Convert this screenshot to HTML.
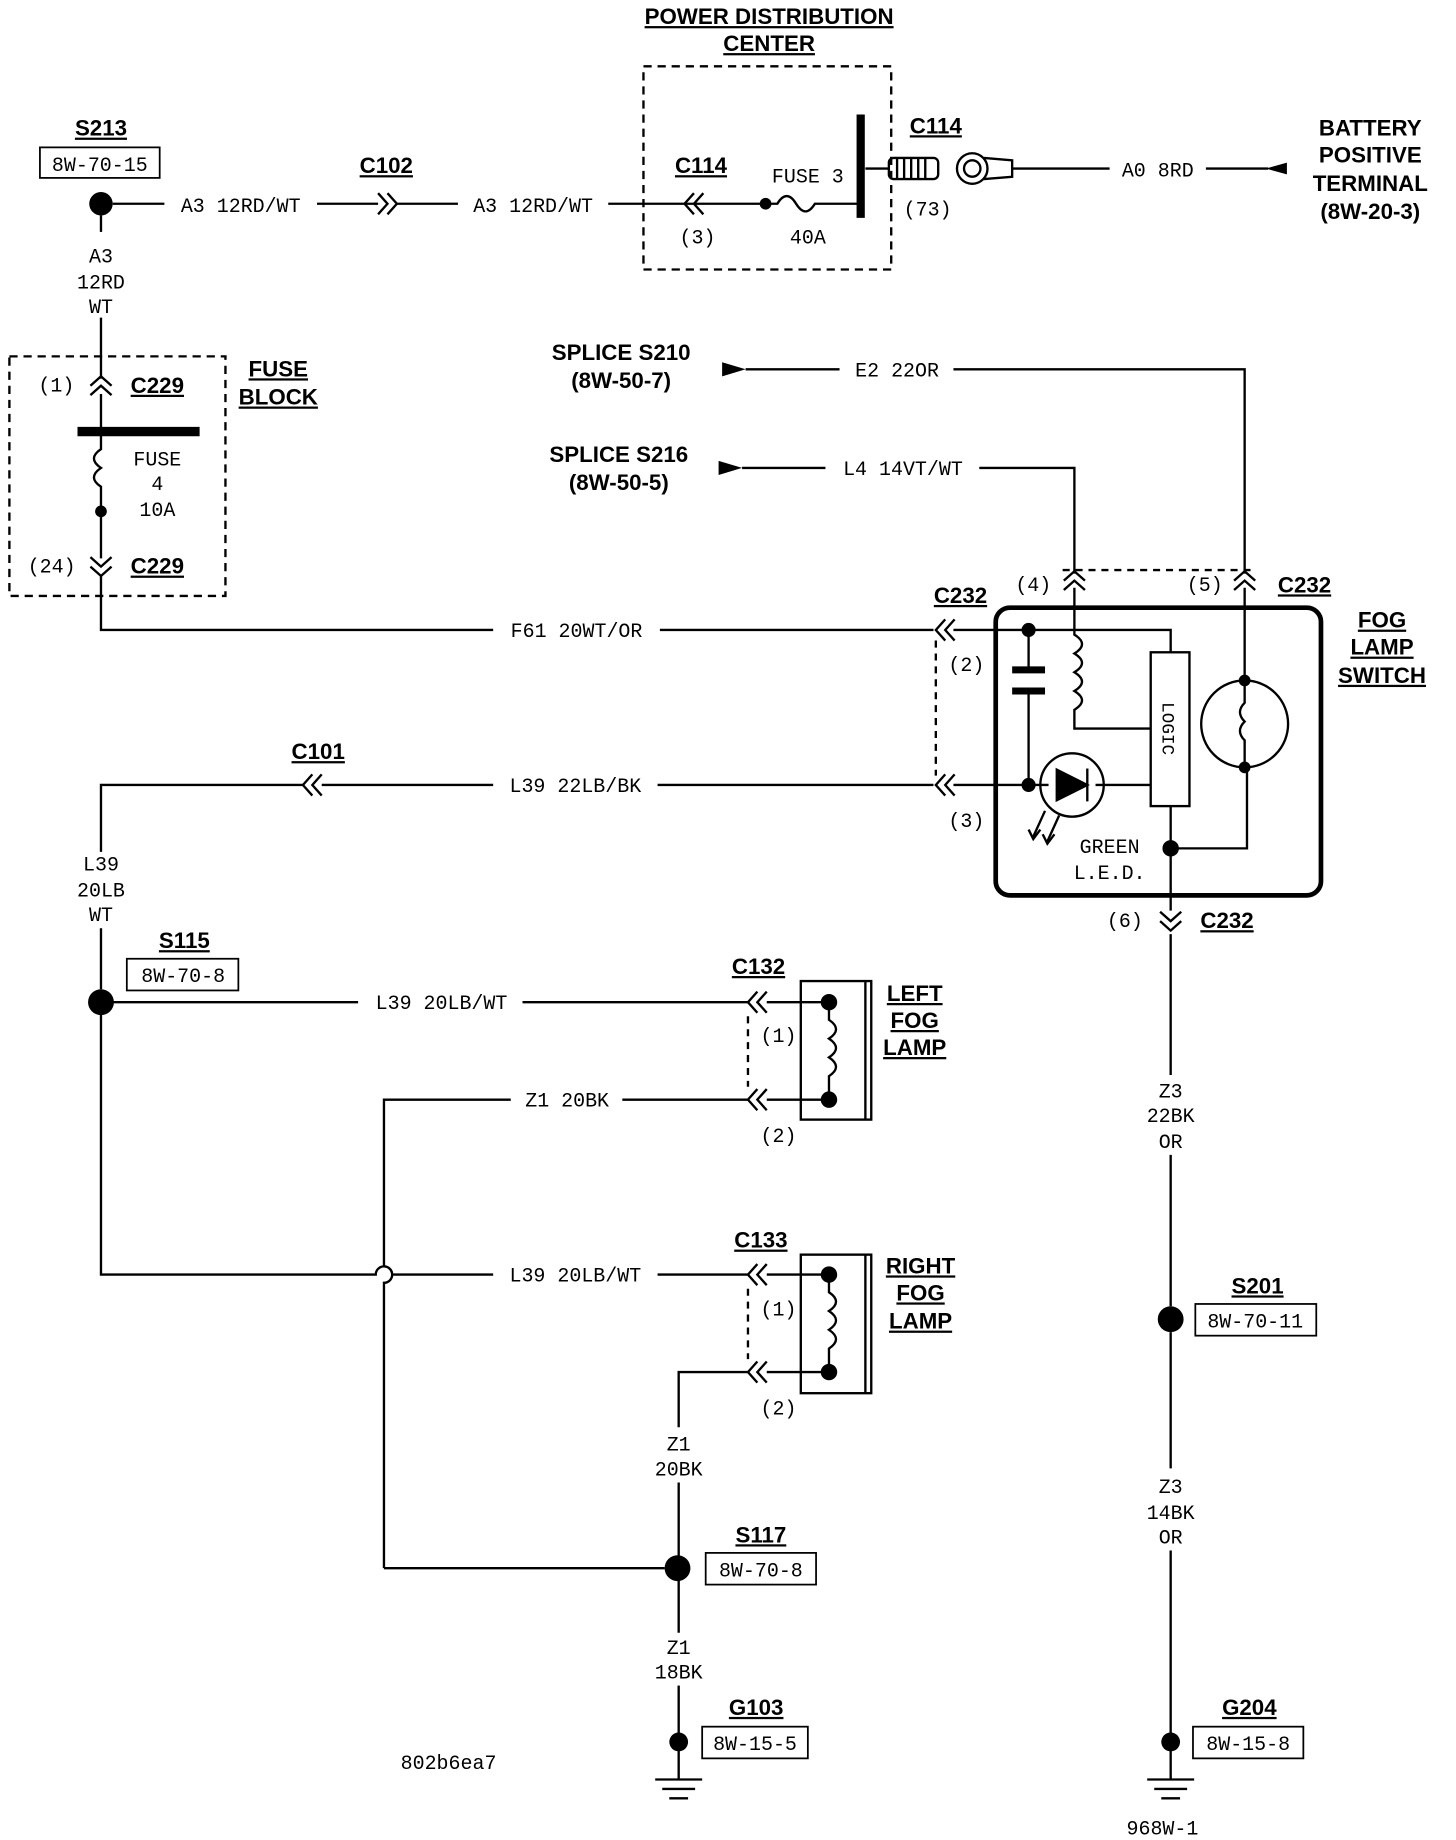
<!DOCTYPE html>
<html><head><meta charset="utf-8"><style>
html,body{margin:0;padding:0;background:#fff;}
svg{display:block}
text{font-family:"Liberation Mono",monospace;font-size:17px;fill:#000}
.b{font-family:"Liberation Sans",sans-serif;font-weight:bold;font-size:19px;text-decoration:underline}
.bn{font-family:"Liberation Sans",sans-serif;font-weight:bold;font-size:19px}
</style></head><body>
<svg width="1456" height="1840" viewBox="0 0 1240 1566" xmlns="http://www.w3.org/2000/svg">
<defs>
<g id="chL" fill="none" stroke="#000" stroke-width="2"><path d="M8,-9 L0,0 L8,9 M16,-9 L8,0 L16,9"/></g>
<g id="chR" fill="none" stroke="#000" stroke-width="2"><path d="M0,-9 L8,0 L0,9 M8,-9 L16,0 L8,9"/></g>
<g id="chU" fill="none" stroke="#000" stroke-width="2"><path d="M-9,8 L0,0 L9,8 M-9,16 L0,8 L9,16"/></g>
<g id="chD" fill="none" stroke="#000" stroke-width="2"><path d="M-9,0 L0,8 L9,0 M-9,8 L0,16 L9,8"/></g>
<g id="gnd" stroke="#000" stroke-width="2"><line x1="0" y1="0" x2="0" y2="32"/><line x1="-20" y1="32" x2="20" y2="32"/><line x1="-14" y1="40" x2="14" y2="40"/><line x1="-8" y1="48" x2="8" y2="48"/></g>
</defs>
<g stroke="#000" stroke-width="2" fill="none">
<rect x="548" y="56" width="211" height="173" stroke-dasharray="7,5"/>
<line x1="96" y1="173" x2="140" y2="173"/>
<line x1="270" y1="173" x2="322" y2="173"/>
<line x1="338" y1="173" x2="390" y2="173"/>
<line x1="518" y1="173" x2="652" y2="173"/>
<path d="M652,173 L662,173 Q670,160 678,173 Q686,186 694,173 L733,173"/>
<line x1="733" y1="97" x2="733" y2="185" stroke-width="7"/>
<line x1="737" y1="143" x2="757" y2="143"/>
<rect x="757" y="134" width="42" height="18" rx="4"/>
<path d="M764,134v18M770,134v18M776,134v18M782,134v18M788,134v18"/>
<circle cx="828" cy="143" r="13"/><circle cx="828" cy="143" r="7"/>
<path d="M838,134 L862,136 L862,150 L838,152"/>
<line x1="862" y1="143" x2="945" y2="143"/>
<line x1="1027" y1="143" x2="1080" y2="143"/>
<line x1="86" y1="183" x2="86" y2="197"/>
<line x1="86" y1="270" x2="86" y2="322"/>
<rect x="8" y="303" width="184" height="204" stroke-dasharray="7,5"/>
<line x1="86" y1="335" x2="86" y2="367"/>
<line x1="66" y1="367" x2="170" y2="367" stroke-width="8"/>
<path d="M86,367 L86,382 Q74,390 86,398 Q74,406 86,414 L86,435 L86,475"/>
<path d="M86,490 L86,536 L420,536"/>
<line x1="562" y1="536" x2="795" y2="536"/>
<line x1="635" y1="314" x2="715" y2="314"/>
<path d="M812,314 L1060,314 L1060,488"/>
<line x1="632" y1="398" x2="703" y2="398"/>
<path d="M834,398 L915,398 L915,488"/>
<line x1="905" y1="485" x2="1065" y2="485" stroke-dasharray="6,5"/>
<rect x="848" y="517" width="277" height="245" rx="12" stroke-width="4"/>
<line x1="797" y1="545" x2="797" y2="660" stroke-dasharray="6,5"/>
<line x1="812" y1="536" x2="876" y2="536"/>
<path d="M876,536 L997,536 L997,555"/>
<line x1="876" y1="536" x2="876" y2="570"/>
<line x1="862" y1="570" x2="890" y2="570" stroke-width="6"/>
<line x1="862" y1="588" x2="890" y2="588" stroke-width="6"/>
<line x1="876" y1="588" x2="876" y2="668"/>
<line x1="812" y1="668" x2="893" y2="668"/>
<circle cx="913" cy="668" r="27"/>
<path d="M900,655 L900,681 L926,668 Z" fill="#000"/>
<line x1="926" y1="654" x2="926" y2="682"/>
<line x1="933" y1="668" x2="980" y2="668"/>
<path d="M890,690 L880,712 M902,694 L892,716" />
<path d="M876,706 L880,714 L886,706 M888,710 L892,718 L898,710" fill="none"/>
<path d="M915,500 L915,540 Q928,548 915,556 Q928,564 915,572 Q928,580 915,588 Q928,596 915,604 L915,620 L980,620"/>
<rect x="980" y="555" width="33" height="131"/>
<line x1="997" y1="686" x2="997" y2="722"/>
<path d="M997,722 L1062,722 L1062,653"/>
<line x1="1060" y1="500" x2="1060" y2="579"/>
<circle cx="1060" cy="616" r="37"/>
<path d="M1060,579 L1060,598 Q1052,606 1060,614 Q1052,622 1060,630 L1060,653"/>
<line x1="997" y1="722" x2="997" y2="775"/>
<line x1="997" y1="795" x2="997" y2="915"/>
<line x1="997" y1="983" x2="997" y2="1112"/>
<line x1="997" y1="1134" x2="997" y2="1250"/>
<line x1="997" y1="1320" x2="997" y2="1478"/>
<path d="M86,725 L86,668 L258,668"/>
<line x1="274" y1="668" x2="420" y2="668"/>
<line x1="560" y1="668" x2="795" y2="668"/>
<line x1="86" y1="790" x2="86" y2="842"/>
<line x1="96" y1="853" x2="305" y2="853"/>
<line x1="445" y1="853" x2="637" y2="853"/>
<line x1="637" y1="865" x2="637" y2="925" stroke-dasharray="6,5"/>
<rect x="682" y="835" width="60" height="118"/><line x1="737" y1="835" x2="737" y2="953"/>
<path d="M653,853 L706,853 L706,868 Q718,876 706,884 Q718,892 706,900 Q718,908 706,916 L706,936 L653,936"/>
<path d="M327,1335 L327,1092 A7,7 0 0 0 327,1078 L327,936 L435,936"/>
<line x1="530" y1="936" x2="637" y2="936"/>
<path d="M86,863 L86,1085 L320,1085 A7,7 0 0 1 334,1085 L420,1085"/>
<line x1="560" y1="1085" x2="637" y2="1085"/>
<line x1="637" y1="1097" x2="637" y2="1157" stroke-dasharray="6,5"/>
<rect x="682" y="1068" width="60" height="118"/><line x1="737" y1="1068" x2="737" y2="1186"/>
<path d="M653,1085 L706,1085 L706,1100 Q718,1108 706,1116 Q718,1124 706,1132 Q718,1140 706,1148 L706,1168 L653,1168"/>
<path d="M637,1168 L578,1168 L578,1215"/>
<line x1="578" y1="1262" x2="578" y2="1325"/>
<line x1="327" y1="1335" x2="566" y2="1335"/>
<line x1="578" y1="1345" x2="578" y2="1390"/>
<line x1="578" y1="1435" x2="578" y2="1478"/>
<rect x="34" y="125" width="102" height="26" stroke-width="1.5"/>
<rect x="108" y="816" width="95" height="27" stroke-width="1.5"/>
<rect x="1018" y="1110" width="103" height="27" stroke-width="1.5"/>
<rect x="601" y="1322" width="94" height="27" stroke-width="1.5"/>
<rect x="598" y="1470" width="90" height="27" stroke-width="1.5"/>
<rect x="1016" y="1470" width="94" height="27" stroke-width="1.5"/>
</g>
<g fill="#000">
<circle cx="86" cy="173" r="10"/><circle cx="652" cy="173" r="5"/><circle cx="86" cy="435" r="5"/>
<circle cx="876" cy="536" r="6"/><circle cx="876" cy="668" r="6"/><circle cx="997" cy="722" r="7"/>
<circle cx="1060" cy="579" r="5"/><circle cx="1060" cy="653" r="5"/>
<circle cx="86" cy="853" r="11"/><circle cx="997" cy="1123" r="11"/><circle cx="577" cy="1335" r="11"/>
<circle cx="578" cy="1483" r="8"/><circle cx="997" cy="1483" r="8"/>
<circle cx="706" cy="853" r="7"/><circle cx="706" cy="936" r="7"/><circle cx="706" cy="1085" r="7"/><circle cx="706" cy="1168" r="7"/>
<path d="M1078,143 L1096,138 L1096,148 Z"/>
<path d="M615,308 L635,314 L615,320 Z"/>
<path d="M612,392 L632,398 L612,404 Z"/>
</g>
<use href="#chR" x="322" y="173"/>
<use href="#chL" x="583" y="173"/>
<use href="#chU" x="86" y="320"/>
<use href="#chD" x="86" y="474"/>
<use href="#chL" x="797" y="536"/>
<use href="#chL" x="797" y="668"/>
<use href="#chU" x="915" y="486"/>
<use href="#chU" x="1060" y="486"/>
<use href="#chD" x="997" y="776"/>
<use href="#chL" x="258" y="668"/>
<use href="#chL" x="637" y="853"/>
<use href="#chL" x="637" y="936"/>
<use href="#chL" x="637" y="1085"/>
<use href="#chL" x="637" y="1168"/>
<use href="#gnd" x="578" y="1483"/>
<use href="#gnd" x="997" y="1483"/>
<text x="655" y="20" class="b" text-anchor="middle">POWER DISTRIBUTION</text>
<text x="655" y="43" class="b" text-anchor="middle">CENTER</text>
<text x="86" y="115" class="b" text-anchor="middle">S213</text>
<text x="85" y="145" text-anchor="middle">8W-70-15</text>
<text x="205" y="180" text-anchor="middle">A3 12RD/WT</text>
<text x="329" y="147" class="b" text-anchor="middle">C102</text>
<text x="454" y="180" text-anchor="middle">A3 12RD/WT</text>
<text x="597" y="147" class="b" text-anchor="middle">C114</text>
<text x="688" y="155" text-anchor="middle">FUSE 3</text>
<text x="594" y="207" text-anchor="middle">(3)</text>
<text x="688" y="207" text-anchor="middle">40A</text>
<text x="797" y="113" class="b" text-anchor="middle">C114</text>
<text x="790" y="183" text-anchor="middle">(73)</text>
<text x="986" y="150" text-anchor="middle">A0 8RD</text>
<text x="1167" y="115" class="bn" text-anchor="middle">BATTERY</text>
<text x="1167" y="138" class="bn" text-anchor="middle">POSITIVE</text>
<text x="1167" y="162" class="bn" text-anchor="middle">TERMINAL</text>
<text x="1167" y="186" class="bn" text-anchor="middle">(8W-20-3)</text>
<text x="86" y="223" text-anchor="middle">A3</text>
<text x="86" y="245" text-anchor="middle">12RD</text>
<text x="86" y="266" text-anchor="middle">WT</text>
<text x="48" y="333" text-anchor="middle">(1)</text>
<text x="134" y="334" class="b" text-anchor="middle">C229</text>
<text x="237" y="320" class="b" text-anchor="middle">FUSE</text>
<text x="237" y="344" class="b" text-anchor="middle">BLOCK</text>
<text x="134" y="396" text-anchor="middle">FUSE</text>
<text x="134" y="417" text-anchor="middle">4</text>
<text x="134" y="439" text-anchor="middle">10A</text>
<text x="44" y="487" text-anchor="middle">(24)</text>
<text x="134" y="488" class="b" text-anchor="middle">C229</text>
<text x="529" y="306" class="bn" text-anchor="middle">SPLICE S210</text>
<text x="529" y="330" class="bn" text-anchor="middle">(8W-50-7)</text>
<text x="764" y="320" text-anchor="middle">E2 22OR</text>
<text x="527" y="393" class="bn" text-anchor="middle">SPLICE S216</text>
<text x="527" y="417" class="bn" text-anchor="middle">(8W-50-5)</text>
<text x="769" y="404" text-anchor="middle">L4 14VT/WT</text>
<text x="880" y="503" text-anchor="middle">(4)</text>
<text x="1026" y="503" text-anchor="middle">(5)</text>
<text x="1111" y="504" class="b" text-anchor="middle">C232</text>
<text x="818" y="513" class="b" text-anchor="middle">C232</text>
<text x="1177" y="534" class="b" text-anchor="middle">FOG</text>
<text x="1177" y="557" class="b" text-anchor="middle">LAMP</text>
<text x="1177" y="581" class="b" text-anchor="middle">SWITCH</text>
<text x="491" y="542" text-anchor="middle">F61 20WT/OR</text>
<text x="823" y="571" text-anchor="middle">(2)</text>
<text x="823" y="704" text-anchor="middle">(3)</text>
<text transform="translate(990,620) rotate(90)" text-anchor="middle" style="font-size:15px">LOGIC</text>
<text x="945" y="726" text-anchor="middle">GREEN</text>
<text x="945" y="748" text-anchor="middle">L.E.D.</text>
<text x="958" y="789" text-anchor="middle">(6)</text>
<text x="1045" y="790" class="b" text-anchor="middle">C232</text>
<text x="271" y="646" class="b" text-anchor="middle">C101</text>
<text x="490" y="674" text-anchor="middle">L39 22LB/BK</text>
<text x="86" y="741" text-anchor="middle">L39</text>
<text x="86" y="763" text-anchor="middle">20LB</text>
<text x="86" y="784" text-anchor="middle">WT</text>
<text x="157" y="807" class="b" text-anchor="middle">S115</text>
<text x="156" y="836" text-anchor="middle">8W-70-8</text>
<text x="376" y="859" text-anchor="middle">L39 20LB/WT</text>
<text x="646" y="829" class="b" text-anchor="middle">C132</text>
<text x="663" y="887" text-anchor="middle">(1)</text>
<text x="663" y="972" text-anchor="middle">(2)</text>
<text x="779" y="852" class="b" text-anchor="middle">LEFT</text>
<text x="779" y="875" class="b" text-anchor="middle">FOG</text>
<text x="779" y="898" class="b" text-anchor="middle">LAMP</text>
<text x="483" y="942" text-anchor="middle">Z1 20BK</text>
<text x="490" y="1091" text-anchor="middle">L39 20LB/WT</text>
<text x="648" y="1062" class="b" text-anchor="middle">C133</text>
<text x="663" y="1120" text-anchor="middle">(1)</text>
<text x="663" y="1204" text-anchor="middle">(2)</text>
<text x="784" y="1084" class="b" text-anchor="middle">RIGHT</text>
<text x="784" y="1107" class="b" text-anchor="middle">FOG</text>
<text x="784" y="1131" class="b" text-anchor="middle">LAMP</text>
<text x="578" y="1235" text-anchor="middle">Z1</text>
<text x="578" y="1256" text-anchor="middle">20BK</text>
<text x="648" y="1313" class="b" text-anchor="middle">S117</text>
<text x="648" y="1342" text-anchor="middle">8W-70-8</text>
<text x="578" y="1408" text-anchor="middle">Z1</text>
<text x="578" y="1429" text-anchor="middle">18BK</text>
<text x="644" y="1460" class="b" text-anchor="middle">G103</text>
<text x="643" y="1490" text-anchor="middle">8W-15-5</text>
<text x="382" y="1506" text-anchor="middle">802b6ea7</text>
<text x="997" y="934" text-anchor="middle">Z3</text>
<text x="997" y="955" text-anchor="middle">22BK</text>
<text x="997" y="977" text-anchor="middle">OR</text>
<text x="1071" y="1101" class="b" text-anchor="middle">S201</text>
<text x="1069" y="1130" text-anchor="middle">8W-70-11</text>
<text x="997" y="1271" text-anchor="middle">Z3</text>
<text x="997" y="1293" text-anchor="middle">14BK</text>
<text x="997" y="1314" text-anchor="middle">OR</text>
<text x="1064" y="1460" class="b" text-anchor="middle">G204</text>
<text x="1063" y="1490" text-anchor="middle">8W-15-8</text>
<text x="990" y="1562" text-anchor="middle">968W-1</text>
</svg>
</body></html>
